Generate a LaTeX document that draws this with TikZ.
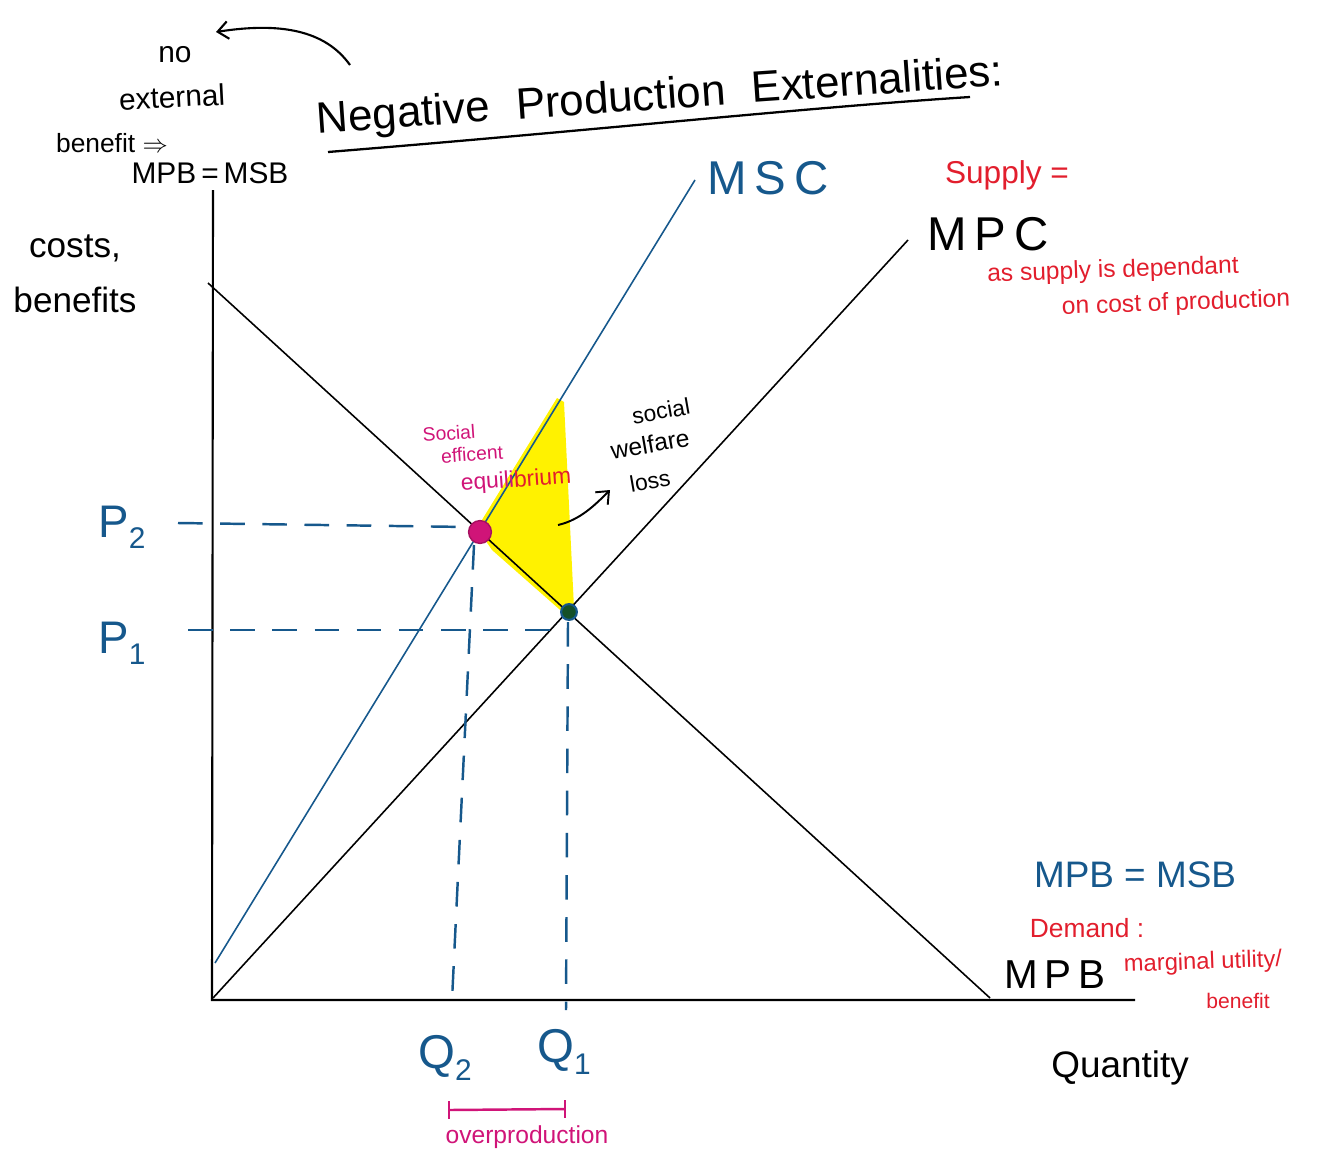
\documentclass[tikz,border=0pt]{standalone}
\usepackage{fontspec}
\setmainfont{Liberation Sans}
\usetikzlibrary{arrows.meta}
\definecolor{pblue}{RGB}{22,88,140}
\definecolor{pred}{RGB}{226,30,45}
\definecolor{pmag}{RGB}{208,20,120}
\definecolor{pgreen}{RGB}{20,80,40}
\newcommand{\fs}[1]{\fontsize{#1}{#1}\selectfont}
\tikzset{
  curve/.style={line width=0.9pt},
  axis/.style={line width=1.2pt},
  guide/.style={pblue, line width=1.4pt, dash pattern=on 14pt off 10pt},
  lbl/.style={inner sep=0pt, anchor=center},
  hand/.style={-{Straight Barb[length=6pt,width=10pt]}, line width=1.2pt},
}
\begin{document}
\begin{tikzpicture}[x=0.02cm,y=-0.02cm]
\useasboundingbox (0,0) rectangle (1334,1173);
% coordinates
\coordinate (O) at (212,1000);
\coordinate (ytop) at (213,190);
\coordinate (xend) at (1135,1000);
\coordinate (D1) at (208,283);
\coordinate (D2) at (990,998);
\coordinate (S1) at (213,998);
\coordinate (S2) at (908,240);
\coordinate (M1) at (215,963);
\coordinate (M2) at (695,180);
\coordinate (E1) at (569,612);
\coordinate (E2) at (480,532);
% welfare loss area
\fill[yellow] (477,528) -- (557,398) -- (564,402) -- (574,608) -- (567,616) -- (492,550) -- cycle;
% axes
\draw[axis] (ytop) -- (O) -- (xend);
% curves
\draw[curve] (D1) -- (D2);
\draw[curve] (S1) -- (S2);
\draw[curve, pblue] (M1) -- (M2);
% guides
\coordinate (p2a) at (178,523);
\coordinate (p1a) at (188,630);
\coordinate (q2a) at (452,1000);
\coordinate (q1a) at (566,1010);
\draw[guide] (p2a) -- (468,527);
\draw[guide] (p1a) -- (560,630);
\draw[guide] (474,545) -- (q2a);
\draw[guide] (568,622) -- (q1a);
% equilibrium points
\node[circle, fill=pmag, draw=pmag!80!black, minimum size=13pt, inner sep=0pt, line width=0.8pt] (pe2) at (E2) {};
\node[circle, fill=pgreen, draw=pblue, minimum size=9pt, inner sep=0pt, line width=1.2pt] (pe1) at (E1) {};
% title
\node[lbl, rotate=4] (title) at (660,98) {\fs{25}Negative\hspace{0.6em}Production\hspace{0.6em}Externalities:};
\coordinate (ul1) at (328,152);
\coordinate (ul2) at (970,97);
\draw[line width=1.3pt] (ul1) .. controls (600,130) and (800,108) .. (ul2);
% top-left note
\node[lbl] (no) at (175,55) {\fs{17}no};
\node[lbl, rotate=3] (ext) at (172,97) {\fs{17}external};
\node[lbl] (ben) at (112,143) {\fs{15}benefit $\Rightarrow$};
\node[lbl] (mpbmsb1) at (210,173) {\fs{17}MPB\,=\,MSB};
\coordinate (arrS) at (350,65);
\coordinate (arrE) at (216,32);
\draw[hand] (arrS) .. controls (325,30) and (280,22) .. (arrE);
% axis labels
\node[lbl] (costs) at (75,248) {\fs{20}costs,};
\node[lbl] (benefits) at (75,300) {\fs{20}benefits};
\node[lbl, pblue] (P2) at (122,527) {\fs{26}P\raisebox{-0.45ex}{\fs{17}2}};
\node[lbl, pblue] (P1) at (122,643) {\fs{26}P\raisebox{-0.45ex}{\fs{17}1}};
\node[lbl, pblue] (Q2) at (445,1058) {\fs{27}Q\raisebox{-0.45ex}{\fs{17}2}};
\node[lbl, pblue] (Q1) at (564,1052) {\fs{27}Q\raisebox{-0.45ex}{\fs{17}1}};
\node[lbl] (quant) at (1120,1068) {\fs{21}Quantity};
% curve labels
\node[lbl, pblue] (MSC) at (768,178) {\fs{27}M\,S\,C};
\node[lbl] (MPC) at (988,234) {\fs{27}M\,P\,C};
\node[lbl, pred] (supply) at (1007,175) {\fs{18}Supply =};
\node[lbl, pred, rotate=2] (dep1) at (1113,271) {\fs{14}as supply is dependant};
\node[lbl, pred, rotate=2] (dep2) at (1176,304) {\fs{14}on cost of production};
\node[lbl, pblue] (mpbmsb2) at (1135,875) {\fs{21}MPB = MSB};
\node[lbl, pred] (demand) at (1087,928) {\fs{15}Demand :};
\node[lbl] (MPB) at (1055,975) {\fs{23}M\,P\,B};
\node[lbl, pred, rotate=2] (mu) at (1203,963) {\fs{13.5}marginal utility/};
\node[lbl, pred] (mub) at (1238,1001) {\fs{12}benefit};
% social welfare loss
\node[lbl, rotate=10] (swl1) at (661,411) {\fs{13}social};
\node[lbl, rotate=10] (swl2) at (650,444) {\fs{14}welfare};
\node[lbl, rotate=10] (swl3) at (650,481) {\fs{13}loss};
\coordinate (swlA) at (558,525);
\coordinate (swlB) at (610,490);
\draw[hand, line width=1.1pt] (swlA) .. controls (580,520) and (595,505) .. (swlB);
% social efficient equilibrium
\node[lbl, pmag, rotate=4] (se1) at (449,433) {\fs{11}Social};
\node[lbl, pmag, rotate=4] (se2) at (472,454) {\fs{11}efficent};
\node[lbl, pmag, rotate=4] (se3) at (516,481) {\fs{13}equili\textcolor{pred}{brium}};
% overproduction
\coordinate (ovA) at (449,1110);
\coordinate (ovB) at (565,1109);
\draw[pmag, line width=1.4pt] (ovA) -- (ovB);
\draw[pmag, line width=1.4pt] (449,1101) -- (449,1119);
\draw[pmag, line width=1.4pt] (565,1100) -- (565,1118);
\node[lbl, pmag] (over) at (527,1137) {\fs{14}overproduction};
\end{tikzpicture}
\end{document}
